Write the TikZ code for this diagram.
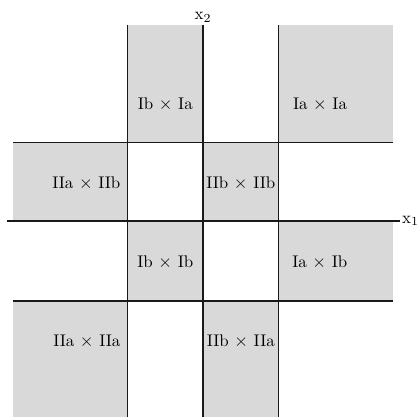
\documentclass[tikz,border=0pt]{standalone}
\usepackage{tikz}

\begin{document}
\begin{tikzpicture}[
    x = 0.02cm, y = -0.02cm,
    every node/.append style = {font=\fontsize{9.6}{11}\selectfont},
    cell/.style = {fill=black!15, draw=none},
    grid line/.style = {draw=black!90, line width=0.9pt},
    cell lbl/.style = {inner sep=0pt},
    axis lbl/.style = {inner sep=1pt}
]
\useasboundingbox (0,0) rectangle (419,417);

% grey cells
\foreach \xa/\ya/\xb/\yb in {127.7/24.5/203/142.7, 278.7/24.5/392.7/142.7,
    13.3/142.7/127.7/221, 203/142.7/278.7/221,
    127.7/221/203/300.7, 278.7/221/392.7/300.7,
    13.3/300.7/127.7/417, 203/300.7/278.7/417}{
    \fill[cell] (\xa,\ya) rectangle (\xb,\yb);
}

% axes
\coordinate (x1l) at (6.7,221);
\coordinate (x1r) at (400,221);
\coordinate (x2t) at (203,24.5);
\coordinate (x2b) at (203,417);
\draw[grid line] (x1l) -- (x1r);
\draw[grid line] (x2t) -- (x2b);
\node[axis lbl, anchor=west] (x1) at (x1r) {x$_1$};
\node[axis lbl, anchor=south] (x2) at (x2t) {x$_2$};

% grid lines
\foreach \y in {142.7,300.7}{
    \draw[grid line] (13.3,\y) -- (392.7,\y);
}
\foreach \x in {127.7,278.7}{
    \draw[grid line] (\x,24.5) -- (\x,417);
}

% cell labels
\node[cell lbl] (ibia) at (165.3,104) {Ib $\times$ Ia};
\node[cell lbl, anchor=west] (iaia) at (292.7,104) {Ia $\times$ Ia};
\node[cell lbl, anchor=east] (iiaiib) at (120.7,183) {IIa $\times$ IIb};
\node[cell lbl] (iibiib) at (240.8,183) {IIb $\times$ IIb};
\node[cell lbl] (ibib) at (165.3,262) {Ib $\times$ Ib};
\node[cell lbl, anchor=west] (iaib) at (292,262) {Ia $\times$ Ib};
\node[cell lbl, anchor=east] (iiaiia) at (120.7,341) {IIa $\times$ IIa};
\node[cell lbl] (iibiia) at (240.8,341) {IIb $\times$ IIa};

\end{tikzpicture}
\end{document}
